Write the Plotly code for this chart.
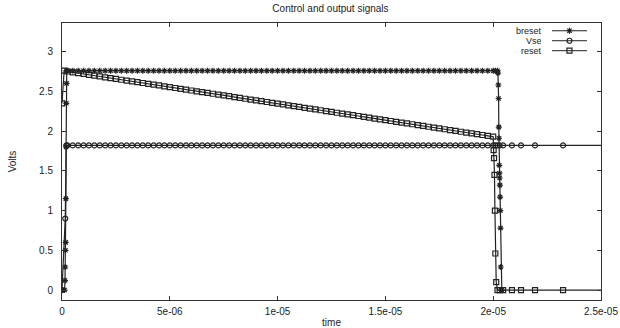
import plotly.graph_objects as go

# ---------------- data (time in microseconds, values in volts) ----------------
plateau_t = [0.25, 0.5, 0.75, 1.0, 1.25, 1.5, 1.75, 2.0, 2.25, 2.5, 2.75, 3.0, 3.25, 3.5, 3.75, 4.0,
             4.25, 4.5, 4.75, 5.0, 5.25, 5.5, 5.75, 6.0, 6.25, 6.5, 6.75, 7.0, 7.25, 7.5, 7.75, 8.0,
             8.25, 8.5, 8.75, 9.0, 9.25, 9.5, 9.75, 10.0, 10.25, 10.5, 10.75, 11.0, 11.25, 11.5, 11.75, 12.0,
             12.25, 12.5, 12.75, 13.0, 13.25, 13.5, 13.75, 14.0, 14.25, 14.5, 14.75, 15.0, 15.25, 15.5, 15.75, 16.0,
             16.25, 16.5, 16.75, 17.0, 17.25, 17.5, 17.75, 18.0, 18.25, 18.5, 18.75, 19.0, 19.25, 19.5, 19.75, 20.0]

breset_high = [2.76, 2.76, 2.76, 2.76, 2.76, 2.76, 2.76, 2.76, 2.76, 2.76, 2.76, 2.76, 2.76, 2.76, 2.76, 2.76,
               2.76, 2.76, 2.76, 2.76, 2.76, 2.76, 2.76, 2.76, 2.76, 2.76, 2.76, 2.76, 2.76, 2.76, 2.76, 2.76,
               2.76, 2.76, 2.76, 2.76, 2.76, 2.76, 2.76, 2.76, 2.76, 2.76, 2.76, 2.76, 2.76, 2.76, 2.76, 2.76,
               2.76, 2.76, 2.76, 2.76, 2.76, 2.76, 2.76, 2.76, 2.76, 2.76, 2.76, 2.76, 2.76, 2.76, 2.76, 2.76,
               2.76, 2.76, 2.76, 2.76, 2.76, 2.76, 2.76, 2.76, 2.76, 2.76, 2.76, 2.76, 2.76, 2.76, 2.76, 2.76]

vse_level = [1.82, 1.82, 1.82, 1.82, 1.82, 1.82, 1.82, 1.82, 1.82, 1.82, 1.82, 1.82, 1.82, 1.82, 1.82, 1.82,
             1.82, 1.82, 1.82, 1.82, 1.82, 1.82, 1.82, 1.82, 1.82, 1.82, 1.82, 1.82, 1.82, 1.82, 1.82, 1.82,
             1.82, 1.82, 1.82, 1.82, 1.82, 1.82, 1.82, 1.82, 1.82, 1.82, 1.82, 1.82, 1.82, 1.82, 1.82, 1.82,
             1.82, 1.82, 1.82, 1.82, 1.82, 1.82, 1.82, 1.82, 1.82, 1.82, 1.82, 1.82, 1.82, 1.82, 1.82, 1.82,
             1.82, 1.82, 1.82, 1.82, 1.82, 1.82, 1.82, 1.82, 1.82, 1.82, 1.82, 1.82, 1.82, 1.82, 1.82, 1.82]

reset_decay = [2.750, 2.740, 2.729, 2.719, 2.708, 2.698, 2.688, 2.677, 2.667, 2.657, 2.646, 2.636, 2.625, 2.615,
               2.605, 2.594, 2.584, 2.574, 2.563, 2.553, 2.542, 2.532, 2.522, 2.511, 2.501, 2.491, 2.480, 2.470,
               2.459, 2.449, 2.439, 2.428, 2.418, 2.407, 2.397, 2.387, 2.376, 2.366, 2.356, 2.345, 2.335, 2.324,
               2.314, 2.304, 2.293, 2.283, 2.273, 2.262, 2.252, 2.241, 2.231, 2.221, 2.210, 2.200, 2.190, 2.179,
               2.169, 2.158, 2.148, 2.138, 2.127, 2.117, 2.106, 2.096, 2.086, 2.075, 2.065, 2.055, 2.044, 2.034,
               2.023, 2.013, 2.003, 1.992, 1.982, 1.971, 1.961, 1.951, 1.940, 1.930]

# breset: rise at start, high plateau, fall just after 20 us
breset_start_t = [0.0, 0.12, 0.14, 0.15, 0.16, 0.17, 0.18, 0.19, 0.20, 0.21, 0.22]
breset_start_v = [0.0, 0.0, 0.12, 0.29, 0.50, 0.60, 1.15, 1.80, 2.35, 2.60, 2.76]
breset_end_t = [20.1, 20.2, 20.22, 20.24, 20.25, 20.26, 20.27, 20.28, 20.29, 20.30, 20.31, 20.32,
                20.33, 20.34, 20.35, 20.37, 20.4]
breset_end_v = [2.76, 2.76, 2.73, 2.58, 2.41, 2.05, 1.91, 1.57, 1.47, 1.41, 1.32, 1.17,
                1.00, 0.78, 0.29, 0.0, 0.0]

# Vse: rise at start, constant level to the end
vse_start_t = [0.0, 0.15, 0.2]
vse_start_v = [0.0, 0.9, 1.82]
vse_end_t = [20.1, 20.2, 20.3, 20.46, 20.87, 21.29, 21.94, 23.24, 26.0]
vse_end_v = [1.82, 1.82, 1.82, 1.82, 1.82, 1.82, 1.82, 1.82, 1.82]

# reset: decays, then drops to zero at 20 us
reset_start_t = [0.0, 0.1]
reset_start_v = [2.35, 2.76]
reset_end_t = [20.02, 20.04, 20.06, 20.08, 20.1, 20.14, 20.2, 20.3, 20.46, 20.87, 21.29, 21.94, 23.24, 26.0]
reset_end_v = [1.76, 1.66, 1.45, 1.00, 0.46, 0.10, 0.0, 0.0, 0.0, 0.0, 0.0, 0.0, 0.0, 0.0]

x_tick_vals = [0, 5e-06, 1e-05, 1.5e-05, 2e-05, 2.5e-05]
x_tick_text = ["0", "5e-06", "1e-05", "1.5e-05", "2e-05", "2.5e-05"]
y_tick_vals = [0, 0.5, 1, 1.5, 2, 2.5, 3]
y_tick_text = ["0", "0.5", "1", "1.5", "2", "2.5", "3"]

series_names = ["breset", "Vse", "reset"]
series_symbols = ["asterisk-open", "circle-open", "square-open"]

# ---------------- build ----------------
def us(lst):
    return [v * 1e-6 for v in lst]

breset_t = us(breset_start_t + plateau_t + breset_end_t)
breset_v = breset_start_v + breset_high + breset_end_v
vse_t = us(vse_start_t + plateau_t + vse_end_t)
vse_v = vse_start_v + vse_level + vse_end_v
reset_t = us(reset_start_t + plateau_t + reset_end_t)
reset_v = reset_start_v + reset_decay + reset_end_v

FONT = "Liberation Sans, Arial, sans-serif"
INK = "#222222"
fig = go.Figure()
for name, sym, tx, vy in zip(series_names, series_symbols,
                             [breset_t, vse_t, reset_t], [breset_v, vse_v, reset_v]):
    fig.add_trace(go.Scatter(
        x=tx, y=vy, mode="lines+markers", name=name,
        line=dict(color=INK, width=1.2),
        marker=dict(symbol=sym, size=5, color=INK, line=dict(color=INK, width=1.2)),
        showlegend=False,
    ))

# gnuplot-style key (text left, sample right)
key_y = [0.972, 0.936, 0.900]
for name, sym, ky in zip(series_names, series_symbols, key_y):
    fig.add_annotation(x=0.892, y=ky, xref="paper", yref="paper", text=name,
                       showarrow=False, xanchor="right", yanchor="middle", height=9,
                       borderpad=0,
                       font=dict(family=FONT, size=9, color=INK))
    fig.add_shape(type="line", xref="paper", yref="paper", x0=0.909, x1=0.974, y0=ky, y1=ky,
                  line=dict(color=INK, width=1))
    fig.add_trace(go.Scatter(x=[0.9415], y=[ky], xaxis="x2", yaxis="y2", mode="markers",
                             marker=dict(symbol=sym, size=5, color=INK,
                                         line=dict(color=INK, width=1.2)),
                             showlegend=False, hoverinfo="skip"))

axis_common = dict(showline=True, linecolor="#333333", linewidth=1, mirror="ticks",
                   ticks="inside", ticklen=4, tickcolor="#333333", showgrid=False, zeroline=False,
                   automargin=False,
                   tickfont=dict(family=FONT, size=10, color=INK))

fig.update_layout(
    width=620, height=328,
    margin=dict(l=62, r=19, t=23, b=28),
    paper_bgcolor="white", plot_bgcolor="white",
    title=dict(text="Control and output signals", x=0.533, xanchor="center", y=0.975, yanchor="middle",
               font=dict(family=FONT, size=10, color=INK)),
    xaxis=dict(range=[0, 2.5e-05], tickvals=x_tick_vals, ticktext=x_tick_text,
               title=dict(text="time", standoff=2, font=dict(family=FONT, size=10, color=INK)),
               ticklabelstandoff=2, **axis_common),
    yaxis=dict(range=[-0.125, 3.36], tickvals=y_tick_vals, ticktext=y_tick_text,
               title=dict(text="Volts", standoff=20, font=dict(family=FONT, size=10, color=INK)),
               ticklabelstandoff=6, **axis_common),
    xaxis2=dict(overlaying="x", range=[0, 1], visible=False),
    yaxis2=dict(overlaying="y", range=[0, 1], visible=False),
)

fig.write_html("out.html", config={"displayModeBar": False},
               post_script="document.body.style.margin='0';document.body.style.overflow='hidden';")
